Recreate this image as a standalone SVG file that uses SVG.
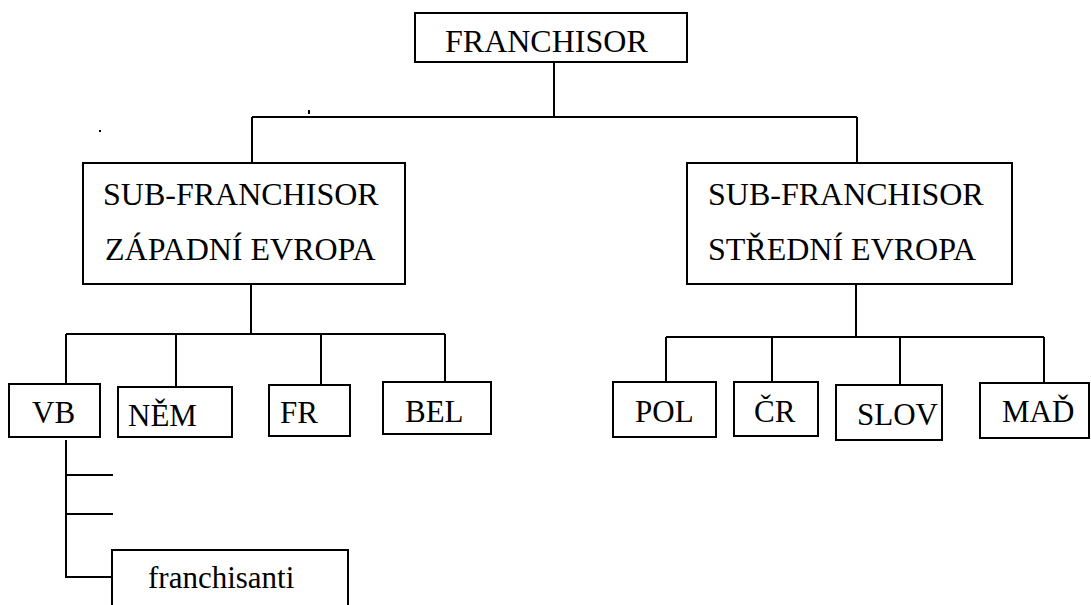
<svg xmlns="http://www.w3.org/2000/svg" width="1091" height="605" viewBox="0 0 1091 605">
<style>
.box{fill:#fff;stroke:#000;stroke-width:2}
.ln{fill:none;stroke:#000;stroke-width:2}
text{font-family:'Liberation Serif','Times New Roman','DejaVu Serif',serif;fill:#000}
.t{font-size:31px}
.tl{font-size:32px}
</style>
<rect width="1091" height="605" fill="#fff"/>
<g id="connectors">
<path class="ln" d="M554,62V117M252,117H857M252,117V163M857,117V163"/>
<path class="ln" d="M251,284V334M66,334H445M66,334V384M176,334V387M321,334V385M445,334V382"/>
<path class="ln" d="M856,284V337M666,337H1044M666,337V382M772,337V382M900,337V385M1044,337V383"/>
<path class="ln" d="M66,440V577H112M66,475H113M66,514H113"/>
<path class="ln" d="M309,110V114M100,130V132"/>
</g>
<g id="franchisor"><rect class="box" x="415" y="13" width="272" height="49"/><text class="tl" x="445" y="52">FRANCHISOR</text></g>
<g id="sub-zapad"><rect class="box" x="83" y="163" width="322" height="121"/><text class="tl" x="103" y="205">SUB-FRANCHISOR</text><text class="tl" x="105" y="260">ZÁPADNÍ EVROPA</text></g>
<g id="sub-stred"><rect class="box" x="687" y="163" width="325" height="121"/><text class="tl" x="708" y="205">SUB-FRANCHISOR</text><text class="tl" x="708" y="260">STŘEDNÍ EVROPA</text></g>
<g id="vb"><rect class="box" x="9" y="384" width="91" height="53"/><text class="t" x="32" y="423">VB</text></g>
<g id="nem"><rect class="box" x="118" y="387" width="114" height="50"/><text class="t" x="128" y="426">NĚM</text></g>
<g id="fr"><rect class="box" x="269" y="385" width="81" height="51"/><text class="t" x="280" y="423">FR</text></g>
<g id="bel"><rect class="box" x="383" y="382" width="108" height="52"/><text class="t" x="405" y="422">BEL</text></g>
<g id="pol"><rect class="box" x="613" y="382" width="103" height="55"/><text class="t" x="635" y="422">POL</text></g>
<g id="cr"><rect class="box" x="734" y="382" width="84" height="54"/><text class="t" x="754" y="422">ČR</text></g>
<g id="slov"><rect class="box" x="836" y="385" width="106" height="55"/><text class="t" x="857" y="425">SLOV</text></g>
<g id="mad"><rect class="box" x="980" y="383" width="109" height="55"/><text class="t" x="1002" y="422">MAĎ</text></g>
<g id="franchisanti"><rect class="box" x="112" y="550" width="236" height="70"/><text class="t" x="148" y="588">franchisanti</text></g>
</svg>
